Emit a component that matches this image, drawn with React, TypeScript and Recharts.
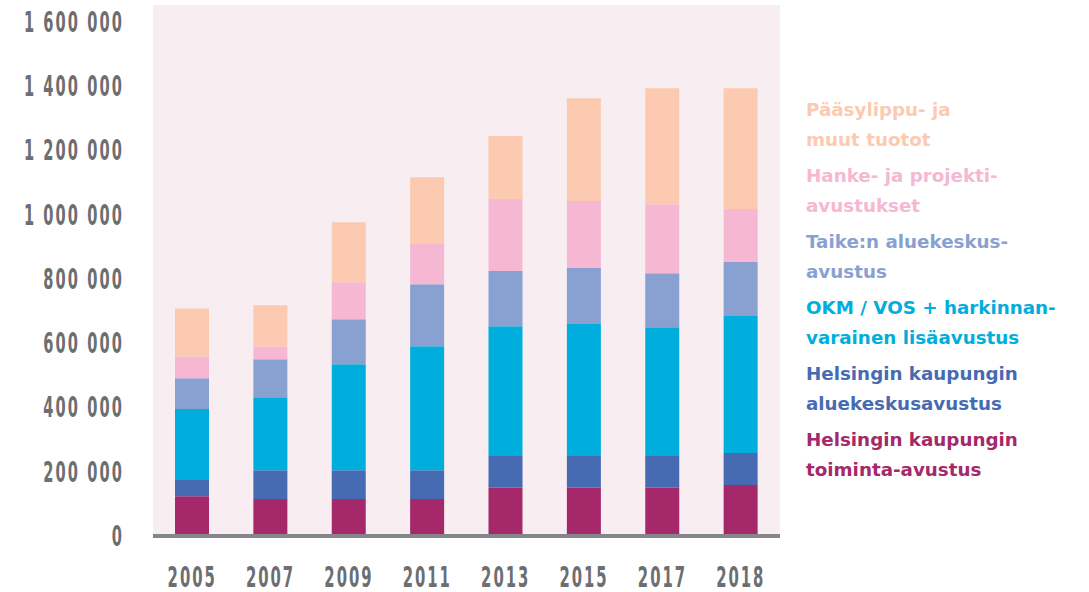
import React from 'react';
import { BarChart, Bar, XAxis, YAxis, CartesianGrid, Legend } from 'recharts';

const years = ['2005', '2007', '2009', '2011', '2013', '2015', '2017', '2018'];
const toiminta = [124000, 115000, 115000, 115000, 150000, 150000, 150000, 159000];
const alueHki = [50000, 90000, 90000, 90000, 99000, 99000, 99000, 99000];
const okm = [221000, 227000, 330000, 386000, 404000, 411000, 401000, 427000];
const taike = [96000, 118000, 140000, 193000, 172000, 174000, 168000, 168000];
const hanke = [68000, 40000, 115000, 125000, 224000, 209000, 215000, 165000];
const paasy = [149000, 128000, 187000, 208000, 196000, 320000, 361000, 376000];
const yTicks = [0, 200000, 400000, 600000, 800000, 1000000, 1200000, 1400000, 1600000];

const series = [
  { key: 'toiminta', color: '#A4286A', lines: ['Helsingin kaupungin', 'toiminta-avustus'] },
  { key: 'alueHki', color: '#466BB3', lines: ['Helsingin kaupungin', 'aluekeskusavustus'] },
  { key: 'okm', color: '#00AEDD', lines: ['OKM / VOS + harkinnan-', 'varainen lisäavustus'] },
  { key: 'taike', color: '#88A1D1', lines: ['Taike:n aluekeskus-', 'avustus'] },
  { key: 'hanke', color: '#F6B7D3', lines: ['Hanke- ja projekti-', 'avustukset'] },
  { key: 'paasy', color: '#FCCAB1', lines: ['Pääsylippu- ja', 'muut tuotot'] },
];

const data = years.map((y, i) => ({
  year: y,
  toiminta: toiminta[i],
  alueHki: alueHki[i],
  okm: okm[i],
  taike: taike[i],
  hanke: hanke[i],
  paasy: paasy[i],
}));

const TICK_COLOR = '#6D6E71';
const TICK_FONT = '"DejaVu Sans Condensed", "DejaVu Sans", sans-serif';

const fmt = (v: number) => {
  const s = String(v);
  return s.replace(/\B(?=(\d{3})+(?!\d))/g, '\u00a0');
};

const YTick = (props: any) => {
  const { x, y, payload } = props;
  return (
    <g transform={`translate(${x},${y})`}>
      <text
        transform="scale(0.65,1.1)"
        textAnchor="end"
        dy={9}
        fontSize={25}
        fontWeight="bold"
        fontFamily={TICK_FONT}
        fill={TICK_COLOR}
        letterSpacing={3.2}
      >
        {fmt(payload.value)}
      </text>
    </g>
  );
};

const XTick = (props: any) => {
  const { x, y, payload } = props;
  return (
    <g transform={`translate(${x},${y})`}>
      <text
        transform="scale(0.66,1.1)"
        textAnchor="middle"
        dy={46}
        fontSize={25}
        fontWeight="bold"
        fontFamily={TICK_FONT}
        fill={TICK_COLOR}
        letterSpacing={3}
      >
        {payload.value}
      </text>
    </g>
  );
};

const LegendContent = () => (
  <div style={{ fontFamily: '"DejaVu Sans", sans-serif', fontWeight: 700, fontSize: 18.3 }}>
    {[...series].reverse().map((s) => (
      <div key={s.key} style={{ color: s.color, marginBottom: 6, lineHeight: '30px' }}>
        {s.lines.map((l, i) => (
          <div key={i}>{l}</div>
        ))}
      </div>
    ))}
  </div>
);

export default function App() {
  return (
    <div style={{ position: 'absolute', left: 0, top: 0, width: 1089, height: 592 }}>
      <BarChart
        width={1089}
        height={592}
        data={data}
        margin={{ top: 5, right: 309, bottom: 0, left: 0 }}
        barSize={34}
      >
        <CartesianGrid fill="#F8EDF1" stroke="none" horizontal={false} vertical={false} />
        <XAxis
          dataKey="year"
          height={56}
          tickLine={false}
          tickSize={0}
          tickMargin={0}
          axisLine={{ stroke: '#85868A', strokeWidth: 4 }}
          tick={<XTick />}
          interval={0}
        />
        <YAxis
          width={153}
          domain={[0, 1653000]}
          ticks={yTicks}
          tickLine={false}
          axisLine={false}
          tickSize={0}
          tickMargin={29}
          tick={<YTick />}
          interval={0}
        />
        <Legend
          layout="vertical"
          align="center"
          verticalAlign="middle"
          content={<LegendContent />}
          wrapperStyle={{ left: 806, top: 95, width: 283 }}
        />
        {series.map((s) => (
          <Bar key={s.key} dataKey={s.key} stackId="a" fill={s.color} isAnimationActive={false} />
        ))}
      </BarChart>
    </div>
  );
}
